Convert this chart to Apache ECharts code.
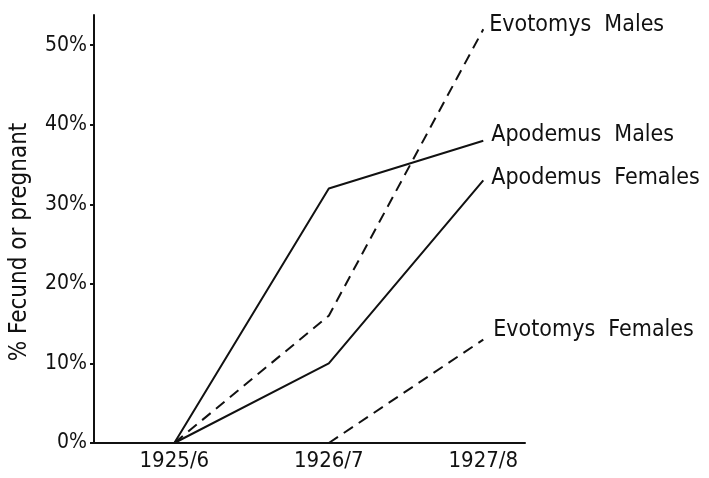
<!DOCTYPE html>
<html>
<head>
<meta charset="utf-8">
<script src="https://cdn.jsdelivr.net/npm/echarts@6/dist/echarts.min.js"></script>
<style>
  html, body { margin: 0; padding: 0; background: #fff; }
  #chart { width: 709px; height: 478px; }
</style>
</head>
<body>
<div id="chart"></div>
<script>
// seasons on the x axis
var seasons = ["1925/6", "1926/7", "1927/8"];
var yTicks = [0, 10, 20, 30, 40, 50];

// % fecund or pregnant
var apodemusMales   = [0, 32, 38];
var apodemusFemales = [0, 10, 33];
var evotomysMales   = [0, 16, 52];
var evotomysFemales = [null, 0, 13];

var FONT = "'Liberation Sans Narrow', 'DejaVu Sans Condensed', sans-serif";

function toPoints(values) {
    var pts = [];
    for (var i = 0; i < values.length; i++) {
        if (values[i] != null) pts.push([i, values[i]]);
    }
    return pts;
}

function makeSeries(name, values, dashed, offset) {
    return {
        name: name,
        type: "line",
        data: toPoints(values),
        symbol: "none",
        silent: true,
        lineStyle: { color: "#111", width: 2, type: dashed ? [11, 7] : "solid" },
        endLabel: {
            show: true,
            formatter: function () { return name.replace(" ", "  "); },
            color: "#111",
            fontFamily: FONT,
            fontSize: 23,
            distance: 6,
            offset: offset
        }
    };
}

var myChart = echarts.init(document.getElementById("chart"));

myChart.setOption({
    animation: false,
    backgroundColor: "#fff",
    grid: { left: 89, right: 184, top: 15, bottom: 35, containLabel: false },
    xAxis: {
        type: "value",
        min: -0.52,
        max: 2.27,
        splitLine: { show: false },
        axisLine: { show: true, onZero: false, lineStyle: { color: "#111", width: 2 } },
        axisTick: { show: false },
        axisLabel: {
            customValues: [0, 1, 2],
            formatter: function (v) { return seasons[Math.round(v)]; },
            color: "#111",
            fontFamily: FONT,
            fontSize: 22,
            margin: 7
        }
    },
    yAxis: {
        type: "value",
        min: 0,
        max: 53.8,
        name: "% Fecund or pregnant",
        nameLocation: "middle",
        nameGap: 62,
        nameTextStyle: { color: "#111", fontFamily: FONT, fontSize: 24, padding: [0, 26, 0, 0] },
        splitLine: { show: false },
        axisLine: { show: true, onZero: false, lineStyle: { color: "#111", width: 2 } },
        axisTick: { show: true, customValues: yTicks, length: 4, lineStyle: { color: "#111", width: 2 } },
        axisLabel: {
            customValues: yTicks,
            formatter: "{value}%",
            color: "#111",
            fontFamily: FONT,
            fontSize: 21,
            margin: 7
        }
    },
    series: [
        makeSeries("Evotomys Males", evotomysMales, true, [0, -4]),
        makeSeries("Apodemus Males", apodemusMales, false, [2, -6]),
        makeSeries("Apodemus Females", apodemusFemales, false, [2, -2]),
        makeSeries("Evotomys Females", evotomysFemales, true, [4, -10])
    ]
});
</script>
</body>
</html>
